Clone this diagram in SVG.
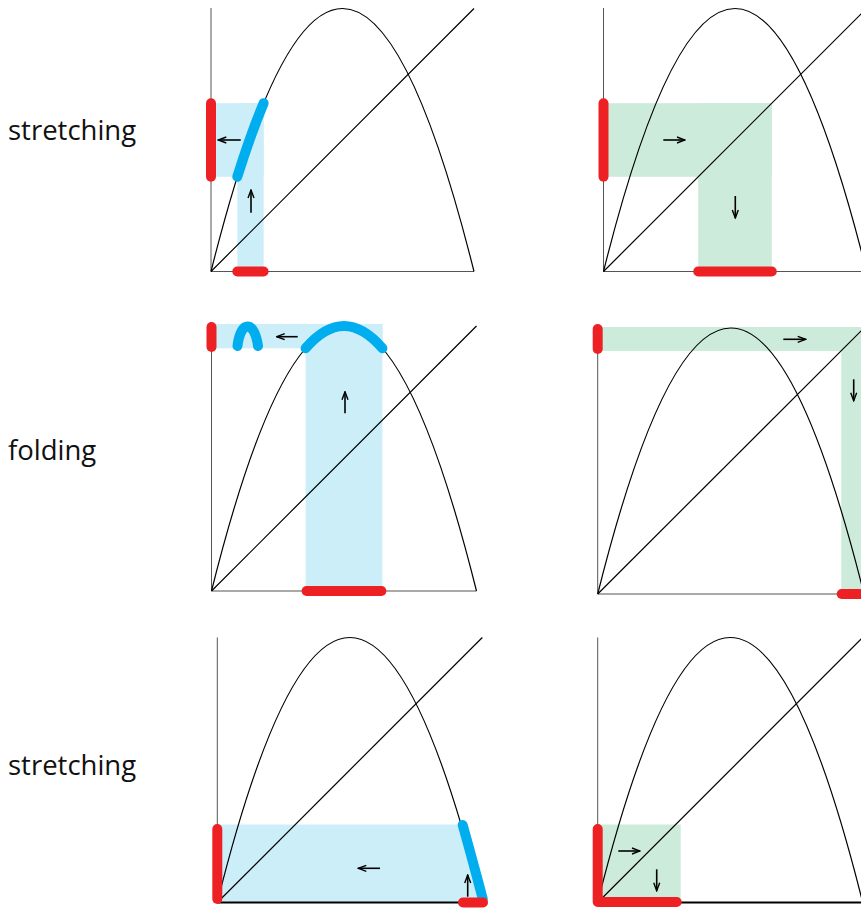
<svg xmlns="http://www.w3.org/2000/svg" width="861" height="908" viewBox="0 0 861 908">
<defs>
<marker id="ah" viewBox="0 0 10 8" refX="9" refY="4" markerWidth="10" markerHeight="8" markerUnits="userSpaceOnUse" orient="auto">
<path d="M1,1 L9,4 L1,7" fill="none" stroke="#000" stroke-width="1.4"/>
</marker>
<style>
.axis{stroke:#555;stroke-width:1;fill:none}
.axb{stroke:#000;stroke-width:2;fill:none}
.curve{stroke:#000;stroke-width:1.2;fill:none}
.red{stroke:#ED2024;stroke-width:10;stroke-linecap:round;stroke-linejoin:round;fill:none}
.blue{stroke:#00AEEF;stroke-width:10;stroke-linecap:round;fill:none}
.lb{fill:#CCEEF9}
.lg{fill:#CCEBDA}
.arr{stroke:#000;stroke-width:1.6;fill:none;marker-end:url(#ah)}
.lbl{font-family:"Open Sans","Noto Sans",sans-serif;font-size:27.5px;fill:#111}
</style>
</defs>
<rect width="861" height="908" fill="#fff"/>

<g id="labels">
<text class="lbl" x="8" y="139.5">stretching</text>
<text class="lbl" x="8" y="459.5">folding</text>
<text class="lbl" x="8" y="774.5">stretching</text>
</g>

<g id="panel-r1c1">
<rect class="lb" x="211" y="103.2" width="52.6" height="73.6"/>
<rect class="lb" x="237.3" y="103.2" width="26.3" height="168.3"/>
<path class="axis" d="M211,8 L211,271.5 L474,271.5"/>
<path class="curve" d="M211,271.5 Q342.5,-254.5 474,271.5"/>
<path class="curve" d="M211,271.5 L474,8.5"/>
<path class="blue" d="M237.3,176.8 Q250.45,134.7 263.6,103.2"/>
<path class="red" d="M211,103.2 L211,176.8"/>
<path class="red" d="M237.3,271.5 L263.6,271.5"/>
</g>

<g id="panel-r1c2">
<rect class="lg" x="603.5" y="103.2" width="168.3" height="73.6"/>
<rect class="lg" x="698.2" y="103.2" width="73.6" height="168.3"/>
<path class="axis" d="M603.5,8 L603.5,271.5 L866.5,271.5"/>
<path class="curve" d="M603.5,271.5 Q735,-254.5 866.5,271.5"/>
<path class="curve" d="M603.5,271.5 L866.5,8.5"/>
<path class="red" d="M603.5,103.2 L603.5,176.8"/>
<path class="red" d="M698.2,271.5 L771.8,271.5"/>
</g>

<g id="panel-r2c1">
<rect class="lb" x="211.5" y="324" width="171" height="24.3"/>
<rect class="lb" x="305.6" y="324" width="76.8" height="267"/>
<path class="axis" d="M211.5,326 L211.5,591 L476.5,591"/>
<path class="curve" d="M211.5,591 Q344,61 476.5,591"/>
<path class="curve" d="M211.5,591 L476.5,326"/>
<path class="blue" d="M305.6,348.3 Q344,303.7 382.4,348.3"/>
<path class="blue" d="M237.5,346 C240.5,320 254.5,320 258,346"/>
<path class="red" d="M211.5,327 L211.5,347"/>
<path class="red" d="M306.6,591 L381.4,591"/>
</g>

<g id="panel-r2c2">
<rect class="lg" x="597.7" y="327" width="270" height="24"/>
<rect class="lg" x="841.3" y="327" width="30" height="267"/>
<path class="axis" d="M597.7,328 L597.7,594 L864,594"/>
<path class="curve" d="M597.7,594 Q730.85,62 864,594"/>
<path class="curve" d="M597.7,594 L864,328"/>
<path class="red" d="M597.7,329 L597.7,349"/>
<path class="red" d="M841.7,594 L870,594"/>
</g>

<g id="panel-r3c1">
<path class="lb" d="M217.3,824.5 L461.1,824.5 L482.3,902.5 L217.3,902.5 Z"/>
<path class="axis" d="M217.3,637.5 L217.3,902.5"/>
<path class="axb" d="M217.3,902.5 L482.3,902.5"/>
<path class="curve" d="M217.3,902.5 Q349.8,372.5 482.3,902.5"/>
<path class="curve" d="M217.3,902.5 L482.3,637.5"/>
<path class="blue" d="M462.7,825 Q472.5,860 482.8,899"/>
<path class="red" d="M217.3,829 L217.3,899"/>
<path class="red" d="M463,902.5 L483,902.5"/>
</g>

<g id="panel-r3c2">
<rect class="lg" x="597.7" y="824.5" width="83" height="78"/>
<path class="axis" d="M597.7,637.5 L597.7,902.5"/>
<path class="axb" d="M597.7,902.5 L862.7,902.5"/>
<path class="curve" d="M597.7,902.5 Q730.2,372.5 862.7,902.5"/>
<path class="curve" d="M597.7,902.5 L862.7,637.5"/>
<path class="red" d="M597.7,829 L597.7,902 L676.7,902"/>
</g>

<g id="connectors">
<path class="arr" d="M240.7,140 L218.3,140"/>
<path class="arr" d="M251,212.7 L251,190"/>
<path class="arr" d="M663.3,140 L685,140"/>
<path class="arr" d="M735.3,196 L735.3,218"/>
<path class="arr" d="M297.7,336.7 L276.7,336.7"/>
<path class="arr" d="M345,413.3 L345,391.7"/>
<path class="arr" d="M783.3,339.3 L805.7,339.3"/>
<path class="arr" d="M853.7,379.3 L853.7,400.7"/>
<path class="arr" d="M380,868.3 L358.3,868.3"/>
<path class="arr" d="M467.7,896.7 L467.7,875"/>
<path class="arr" d="M618.3,851 L640,851"/>
<path class="arr" d="M656.7,869.3 L656.7,890.7"/>
</g>
</svg>
